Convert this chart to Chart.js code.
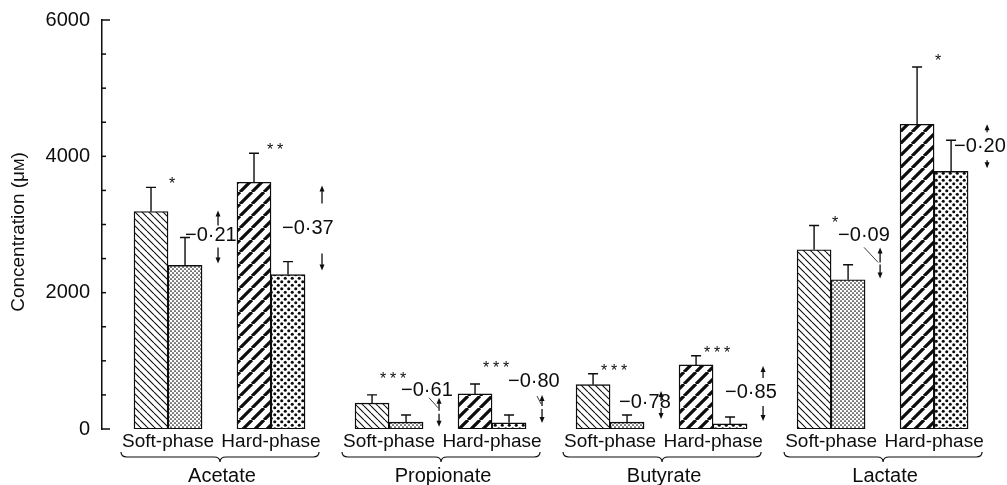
<!DOCTYPE html>
<html>
<head>
<meta charset="utf-8">
<script src="https://cdn.jsdelivr.net/npm/chart.js@4.4.1/dist/chart.umd.min.js"></script>
<style>
  html, body { margin: 0; background: #fff; }
  #wrap { width: 1007px; height: 485px; }
</style>
</head>
<body>
<div id="wrap"><canvas id="chart" width="1007" height="485"></canvas></div>
<script>
// ================== Data ==================
const acids = ['Acetate', 'Propionate', 'Butyrate', 'Lactate'];
const phases = ['Soft-phase', 'Hard-phase'];
// one entry per acid/phase pair: Ac soft, Ac hard, Pr soft, Pr hard, Bu soft, Bu hard, La soft, La hard
const hatchedMean = [3190, 3620, 380, 515, 650, 940, 2630, 4470];
const hatchedErr  = [355, 425, 120, 145, 160, 135, 355, 840];
const dottedMean  = [2400, 2265, 100, 90, 100, 75, 2190, 3780];
const dottedErr   = [410, 190, 105, 115, 105, 100, 220, 455];
const stars = ['*', '**', '***', '***', '***', '***', '*', '*'];
const corrLabels = ['\u22120\u00b721', '\u22120\u00b737', '\u22120\u00b761', '\u22120\u00b780',
                    '\u22120\u00b778', '\u22120\u00b785', '\u22120\u00b709', '\u22120\u00b720'];
const yLabelTicks = [0, 2000, 4000, 6000];

// ================== Layout ==================
const INK = '#0d0d0d';
const FONT = "'Liberation Sans', Arial, Helvetica, sans-serif";
const GROUP_STEP = 2.146;               // distance between acid groups, in pair units
const pairX = i => Math.floor(i / 2) * GROUP_STEP + (i % 2);

// where each correlation note sits (y in concentration units), arrows in px relative to text
const notes = [
  { y: 2840, dx: 17, ax: 33, up: [-25, -10], down: [12, 28] },
  { y: 2940, dx: 11, ax: 40, up: [-43, -25], down: [25, 42] },
  { y: 560,  dx: 12, ax: 38, up: [7, 20],   down: [23, 36], lead: [28, 7, 37, 17] },
  { y: 690,  dx: 16, ax: 34, up: [13, 24],  down: [27, 41], lead: [29, 14, 33, 22] },
  { y: 382,  dx: 9,  ax: 42, up: [-12, -2], down: [5, 16] },
  { y: 529,  dx: 12, ax: 38, up: [-27, -15], down: [13, 28] },
  { y: 2840, dx: 7,  ax: 42, up: [12, 27],  down: [29, 43], lead: [26, 12, 40, 27] },
  { y: 4147, dx: 20, ax: 33, up: [-22, -14], down: [14, 22] }
];
const starLift = [0, 0, 13, 13, 0, 0, 0, 3];

// ================== Fill patterns ==================
function makePattern(size, draw) {
  const c = document.createElement('canvas');
  c.width = size; c.height = size;
  const g = c.getContext('2d');
  g.fillStyle = '#fff';
  g.fillRect(0, 0, size, size);
  g.strokeStyle = INK; g.fillStyle = INK;
  draw(g, size);
  return g.createPattern(c, 'repeat');
}

const softHatch = makePattern(7, (g, s) => {
  g.lineWidth = 1.1;
  g.beginPath();
  [-s, 0, s].forEach(o => { g.moveTo(o, 0); g.lineTo(o + s, s); });
  g.stroke();
});
const hardHatch = makePattern(12, (g, s) => {
  g.lineWidth = 3.2;
  g.beginPath();
  [-s, 0, s].forEach(o => { g.moveTo(o, s); g.lineTo(o + s, 0); });
  g.stroke();
});
const softDots = makePattern(4, (g) => {
  [[1, 1], [3, 3]].forEach(([x, y]) => { g.beginPath(); g.arc(x, y, 0.85, 0, Math.PI * 2); g.fill(); });
});
const hardDots = makePattern(7, (g) => {
  [[1.75, 1.75], [5.25, 5.25]].forEach(([x, y]) => { g.beginPath(); g.arc(x, y, 1.55, 0, Math.PI * 2); g.fill(); });
});

// ================== Drawing helpers ==================
function arrow(ctx, x, yFrom, yTo) {
  const dir = yTo < yFrom ? -1 : 1;
  ctx.beginPath();
  ctx.moveTo(x, yFrom); ctx.lineTo(x, yTo - dir * 4);
  ctx.stroke();
  ctx.beginPath();
  ctx.moveTo(x, yTo);
  ctx.lineTo(x - 2.5, yTo - dir * 6);
  ctx.lineTo(x + 2.5, yTo - dir * 6);
  ctx.closePath();
  ctx.fill();
}

function brace(ctx, x0, x1, y) {
  const xm = (x0 + x1) / 2;
  ctx.beginPath();
  ctx.moveTo(x0, y - 5);
  ctx.quadraticCurveTo(x0, y, x0 + 6, y);
  ctx.lineTo(xm - 6, y);
  ctx.quadraticCurveTo(xm, y, xm, y + 5);
  ctx.quadraticCurveTo(xm, y, xm + 6, y);
  ctx.lineTo(x1 - 6, y);
  ctx.quadraticCurveTo(x1, y, x1, y - 5);
  ctx.stroke();
}

const overlay = {
  id: 'overlay',
  afterDatasetsDraw(chart) {
    const ctx = chart.ctx;
    const xs = chart.scales.x, ys = chart.scales.y;
    const area = chart.chartArea;
    ctx.save();
    ctx.strokeStyle = INK;
    ctx.fillStyle = INK;

    // inward ticks on the y axis
    ctx.lineWidth = 1.5;
    ys.ticks.forEach(t => {
      const py = ys.getPixelForValue(t.value);
      const len = (t.value === 0 || t.value === 6000) ? 8 : 4;
      ctx.beginPath(); ctx.moveTo(area.left, py); ctx.lineTo(area.left + len, py); ctx.stroke();
    });

    // error bars
    ctx.lineWidth = 1.4;
    [[hatchedMean, hatchedErr], [dottedMean, dottedErr]].forEach(([means, errs], d) => {
      chart.getDatasetMeta(d).data.forEach((bar, i) => {
        const top = ys.getPixelForValue(means[i] + errs[i]);
        ctx.beginPath();
        ctx.moveTo(bar.x, bar.y); ctx.lineTo(bar.x, top);
        ctx.moveTo(bar.x - 5, top); ctx.lineTo(bar.x + 5, top);
        ctx.stroke();
      });
    });

    // significance stars
    ctx.font = '16px ' + FONT;
    ctx.textAlign = 'center';
    ctx.textBaseline = 'alphabetic';
    chart.getDatasetMeta(0).data.forEach((bar, i) => {
      const top = ys.getPixelForValue(hatchedMean[i] + hatchedErr[i]);
      const cx = bar.x + 21, cy = top - 7 - starLift[i];
      const n = stars[i].length;
      for (let k = 0; k < n; k++) ctx.fillText('*', cx + (k - (n - 1) / 2) * 10, cy + 9);
    });

    // correlation notes with arrows
    ctx.font = '20px ' + FONT;
    ctx.textAlign = 'left';
    ctx.textBaseline = 'middle';
    ctx.lineWidth = 1.3;
    notes.forEach((n, i) => {
      const tx = xs.getPixelForValue(pairX(i)) + n.dx;
      const ty = ys.getPixelForValue(n.y);
      ctx.fillText(corrLabels[i], tx, ty);
      arrow(ctx, tx + n.ax, ty + n.up[1], ty + n.up[0]);
      arrow(ctx, tx + n.ax, ty + n.down[0], ty + n.down[1]);
      if (n.lead) {
        ctx.save();
        ctx.lineWidth = 0.8;
        ctx.beginPath();
        ctx.moveTo(tx + n.lead[0], ty + n.lead[1]);
        ctx.lineTo(tx + n.lead[2], ty + n.lead[3]);
        ctx.stroke();
        ctx.restore();
      }
    });

    // phase labels, braces and acid names
    ctx.textAlign = 'center';
    ctx.textBaseline = 'alphabetic';
    ctx.font = '19px ' + FONT;
    hatchedMean.forEach((v, i) => {
      ctx.fillText(phases[i % 2], xs.getPixelForValue(pairX(i)), 447);
    });
    ctx.lineWidth = 1.2;
    ctx.font = '20px ' + FONT;
    acids.forEach((name, g) => {
      const x0 = xs.getPixelForValue(pairX(g * 2)) - 47;
      const x1 = xs.getPixelForValue(pairX(g * 2 + 1)) + 48;
      brace(ctx, x0, x1, 457);
      ctx.fillText(name, (x0 + x1) / 2 + 2, 482);
    });

    // y axis title, with small-capital M
    ctx.save();
    ctx.translate(19, 232);
    ctx.rotate(-Math.PI / 2);
    ctx.textBaseline = 'middle';
    ctx.textAlign = 'left';
    const big = '19px ' + FONT, small = '15px ' + FONT;
    const parts = [['Concentration (\u03bc', big], ['M', small], [')', big]];
    let total = 0;
    parts.forEach(([s, f]) => { ctx.font = f; total += ctx.measureText(s).width; });
    let px = -total / 2;
    parts.forEach(([s, f]) => {
      ctx.font = f;
      ctx.fillText(s, px, f === small ? 1 : 0);
      px += ctx.measureText(s).width;
    });
    ctx.restore();

    ctx.restore();
  }
};

// ================== Chart ==================
const toPoints = arr => arr.map((v, i) => ({ x: pairX(i), y: v }));

new Chart(document.getElementById('chart'), {
  type: 'bar',
  data: {
    datasets: [
      {
        label: 'hatched',
        data: toPoints(hatchedMean),
        backgroundColor: hatchedMean.map((v, i) => i % 2 ? hardHatch : softHatch),
        borderColor: INK,
        borderWidth: 1.4,
        borderSkipped: false,
        barThickness: 34
      },
      {
        label: 'dotted',
        data: toPoints(dottedMean),
        backgroundColor: dottedMean.map((v, i) => i % 2 ? hardDots : softDots),
        borderColor: INK,
        borderWidth: 1.4,
        borderSkipped: false,
        barThickness: 34
      }
    ]
  },
  options: {
    responsive: false,
    devicePixelRatio: 1,
    animation: false,
    layout: { padding: { top: 20, right: 7, bottom: 56, left: 0 } },
    plugins: { legend: { display: false }, tooltip: { enabled: false } },
    scales: {
      x: { type: 'linear', min: -0.641, max: 8.078, offset: false, display: false },
      y: {
        min: 0, max: 6000,
        ticks: {
          stepSize: 500,
          padding: 4,
          color: INK,
          font: { family: FONT, size: 20 },
          callback: v => yLabelTicks.includes(v) ? String(v) : ''
        },
        grid: { display: false },
        border: { display: true, color: INK, width: 1.5 },
        afterFit: scale => { scale.width = 102; }
      }
    }
  },
  plugins: [overlay]
});
</script>
</body>
</html>
